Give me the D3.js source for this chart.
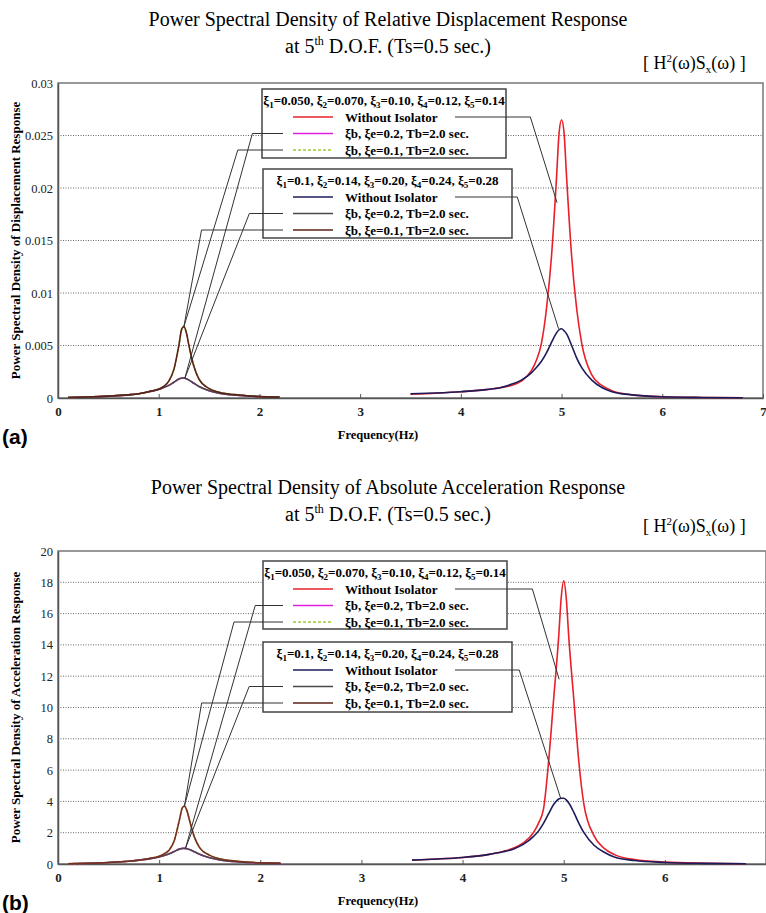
<!DOCTYPE html>
<html>
<head>
<meta charset="utf-8">
<script src="https://cdn.jsdelivr.net/npm/d3@7"></script>
<style>
  body { margin: 0; background: #fff; }
  svg { display: block; }
</style>
</head>
<body>
<script>
// Frequenze (Hz) delle curve dei sistemi isolati e non isolati
const freqLow = [0.1, 0.3, 0.5, 0.7, 0.8, 0.9, 1.0, 1.05, 1.1, 1.15, 1.2, 1.23, 1.25, 1.28, 1.3, 1.35, 1.4, 1.5, 1.6, 1.8, 2.0, 2.2];
const freqHigh = [3.5, 3.75, 4.0, 4.25, 4.4, 4.5, 4.6, 4.7, 4.75, 4.8, 4.85, 4.9, 4.95, 4.975, 5.0, 5.025, 5.05, 5.1, 5.15, 5.2, 5.3, 5.4, 5.5, 5.7, 6.0, 6.4, 6.8];

// (a) spostamento relativo
const brownA = [0.00005, 0.0001, 0.00018, 0.0003, 0.0004, 0.0006, 0.00085, 0.0011, 0.0016, 0.0027, 0.0050, 0.0066, 0.0068, 0.0060, 0.0050, 0.0030, 0.0018, 0.0009, 0.00055, 0.00028, 0.00015, 0.0001];
const grayA = [0.00005, 0.0001, 0.00018, 0.0003, 0.0004, 0.0006, 0.0008, 0.001, 0.0012, 0.0015, 0.0018, 0.0019, 0.0019, 0.0018, 0.0017, 0.0014, 0.0011, 0.0007, 0.00045, 0.00025, 0.00013, 0.00008];
const redA = [0.00035, 0.00045, 0.0006, 0.0008, 0.001, 0.0012, 0.0016, 0.0026, 0.0036, 0.0052, 0.0085, 0.0135, 0.021, 0.0252, 0.0265, 0.0252, 0.021, 0.0135, 0.0085, 0.0052, 0.0022, 0.0012, 0.0007, 0.0003, 0.00012, 0.00005, 0.00002];
const navyA = [0.0004, 0.00048, 0.0006, 0.0008, 0.001, 0.0013, 0.0017, 0.0024, 0.0029, 0.0035, 0.0043, 0.0053, 0.0062, 0.0065, 0.0066, 0.0064, 0.0061, 0.005, 0.0038, 0.0029, 0.0017, 0.001, 0.0006, 0.0003, 0.00012, 0.00005, 0.00002];

// (b) accelerazione assoluta
const brownB = [0.02, 0.05, 0.1, 0.18, 0.24, 0.35, 0.5, 0.65, 0.9, 1.5, 2.8, 3.6, 3.7, 3.3, 2.8, 1.7, 1.05, 0.55, 0.33, 0.16, 0.08, 0.05];
const grayB = [0.02, 0.05, 0.1, 0.18, 0.25, 0.33, 0.45, 0.55, 0.65, 0.8, 0.95, 1.0, 1.0, 0.96, 0.92, 0.78, 0.62, 0.4, 0.26, 0.13, 0.07, 0.04];
const redB = [0.25, 0.32, 0.42, 0.6, 0.8, 1.0, 1.35, 2.0, 2.6, 3.5, 6.5, 10.5, 14.5, 17.0, 18.1, 17.0, 14.5, 10.5, 6.5, 3.8, 1.8, 1.0, 0.6, 0.28, 0.12, 0.05, 0.02];
const navyB = [0.25, 0.32, 0.42, 0.6, 0.78, 0.95, 1.25, 1.75, 2.1, 2.6, 3.2, 3.8, 4.15, 4.2, 4.2, 4.1, 3.9, 3.3, 2.6, 2.0, 1.2, 0.75, 0.45, 0.22, 0.1, 0.04, 0.02];

// Tick
const xTicks = [0, 1, 2, 3, 4, 5, 6, 7];
const xTickLabelsA = ['0', '1', '2', '3', '4', '5', '6', '7'];
const xTickLabelsB = ['0', '1', '2', '3', '4', '5', '6', ''];
const yTicksA = [0, 0.005, 0.01, 0.015, 0.02, 0.025, 0.03];
const yTicksB = [0, 2, 4, 6, 8, 10, 12, 14, 16, 18, 20];

// Testi della legenda
const headerSet1 = [['1', '0.050'], ['2', '0.070'], ['3', '0.10'], ['4', '0.12'], ['5', '0.14']];
const headerSet2 = [['1', '0.1'], ['2', '0.14'], ['3', '0.20'], ['4', '0.24'], ['5', '0.28']];
const rowLabels = ['Without Isolator', 'ξb, ξe=0.2, Tb=2.0 sec.', 'ξb, ξe=0.1, Tb=2.0 sec.'];

const SERIF = "'Liberation Serif', 'Times New Roman', serif";
const W = 766, H = 913;

const svg = d3.select('body').append('svg')
  .attr('width', W)
  .attr('height', H);

function drawPanel(p) {
  const x = d3.scaleLinear().domain([0, 7]).range([p.left, p.right]);
  const y = d3.scaleLinear().domain([0, p.yMax]).range([p.bottom, p.top]);
  const g = svg.append('g');

  // Titolo
  g.append('text')
    .attr('x', 388).attr('y', p.titleY)
    .attr('text-anchor', 'middle')
    .style('font-family', SERIF).style('font-size', '20px')
    .text(p.title);
  const t2 = g.append('text')
    .attr('x', 388).attr('y', p.titleY + 27)
    .attr('text-anchor', 'middle')
    .style('font-family', SERIF).style('font-size', '20px');
  t2.append('tspan').text('at 5');
  t2.append('tspan').attr('dy', -8).style('font-size', '12px').text('th');
  t2.append('tspan').attr('dy', 8).text(' D.O.F. (Ts=0.5 sec.)');

  // [ H²(ω)Sx(ω) ]
  const hs = g.append('text')
    .attr('x', 643).attr('y', p.hY)
    .style('font-family', SERIF).style('font-size', '18px');
  hs.append('tspan').text('[ H');
  hs.append('tspan').attr('dy', -7).style('font-size', '11px').text('2');
  hs.append('tspan').attr('dy', 7).text('(ω)S');
  hs.append('tspan').attr('dy', 4).style('font-size', '11px').text('x');
  hs.append('tspan').attr('dy', -4).text('(ω) ]');

  // Griglia
  g.selectAll('.grid')
    .data(p.yTicks.filter(v => v > 0 && v < p.yMax))
    .join('line')
    .attr('x1', p.left).attr('x2', p.right)
    .attr('y1', d => y(d)).attr('y2', d => y(d))
    .attr('stroke', '#666').attr('stroke-width', 1)
    .attr('stroke-dasharray', '1,1.5');

  // Cornice
  g.append('rect')
    .attr('x', p.left).attr('y', p.top)
    .attr('width', p.right - p.left).attr('height', p.bottom - p.top)
    .attr('fill', 'none').attr('stroke', '#777').attr('stroke-width', 1.5);

  // Assi
  const xAxis = g.append('g')
    .attr('transform', 'translate(0,' + p.bottom + ')')
    .call(d3.axisBottom(x).tickValues(xTicks).tickSize(-4).tickSizeOuter(0).tickPadding(9)
      .tickFormat((d, i) => p.xLabels[i]));
  xAxis.select('.domain').attr('stroke', '#555').attr('stroke-width', 1.5);
  xAxis.selectAll('line').attr('stroke', '#555');
  xAxis.selectAll('text')
    .style('font-family', SERIF).style('font-size', '13px').style('font-weight', 'bold').attr('fill', '#222');

  const yAxis = g.append('g')
    .attr('transform', 'translate(' + p.left + ',0)')
    .call(d3.axisLeft(y).tickValues(p.yTicks).tickSize(0).tickSizeOuter(0).tickPadding(5)
      .tickFormat(d => String(d)));
  yAxis.select('.domain').attr('stroke', '#555').attr('stroke-width', 1.5);
  yAxis.selectAll('text')
    .style('font-family', SERIF).style('font-size', '12.5px').attr('fill', '#222');

  // Etichette degli assi
  g.append('text')
    .attr('transform', 'translate(20,' + ((p.top + p.bottom) / 2) + ') rotate(-90)')
    .attr('text-anchor', 'middle')
    .style('font-family', SERIF).style('font-size', '13px').style('font-weight', 'bold')
    .text(p.yLabel);
  g.append('text')
    .attr('x', 378).attr('y', p.bottom + 41)
    .attr('text-anchor', 'middle')
    .style('font-family', SERIF).style('font-size', '12.5px').style('font-weight', 'bold')
    .text('Frequency(Hz)');
  g.append('text')
    .attr('x', 2).attr('y', p.bottom + 46)
    .style('font-family', "'Liberation Sans', Arial, sans-serif").style('font-size', '21px').style('font-weight', 'bold')
    .text(p.letter);

  // Curve
  const line = d3.line()
    .x(d => x(d[0])).y(d => y(d[1]))
    .curve(d3.curveMonotoneX);
  p.series.forEach(s => {
    g.append('path')
      .datum(s.f.map((f, i) => [f, s.v[i]]))
      .attr('d', line)
      .attr('fill', 'none')
      .attr('stroke', s.color)
      .attr('stroke-width', 1.6)
      .attr('stroke-dasharray', s.dash || null);
  });

  // Legende
  p.legends.forEach(L => {
    const lg = g.append('g');
    lg.append('rect')
      .attr('x', L.x).attr('y', L.y).attr('width', L.w).attr('height', L.h)
      .attr('fill', 'white').attr('stroke', '#444').attr('stroke-width', 1.5);
    const ht = lg.append('text')
      .attr('x', L.x + L.w / 2).attr('y', L.y + 16)
      .attr('text-anchor', 'middle')
      .style('font-family', SERIF).style('font-size', '13px').style('font-weight', 'bold');
    L.header.forEach((h, k) => {
      ht.append('tspan').text((k ? ', ' : '') + 'ξ');
      ht.append('tspan').attr('dy', 3).style('font-size', '9px').text(h[0]);
      ht.append('tspan').attr('dy', -3).text('=' + h[1]);
    });
    rowLabels.forEach((r, k) => {
      const ry = L.y + 28 + k * 16.5;
      lg.append('line')
        .attr('x1', 293).attr('x2', 333).attr('y1', ry).attr('y2', ry)
        .attr('stroke', L.colors[k]).attr('stroke-width', 1.6)
        .attr('stroke-dasharray', L.dash[k]);
      lg.append('text')
        .attr('x', 345).attr('y', ry + 4.5)
        .style('font-family', SERIF).style('font-size', '13px').style('font-weight', 'bold')
        .text(r);
    });
  });

  // Linee di richiamo
  p.leaders.forEach(d => {
    const L = p.legends[d.box];
    const ry = L.y + 28 + d.row * 16.5;
    g.append('path')
      .attr('d', 'M' + d.x0 + ',' + ry + 'H' + x(d.elbow) + 'L' + x(d.to[0]) + ',' + y(d.to[1]))
      .attr('fill', 'none').attr('stroke', '#333').attr('stroke-width', 1);
  });
}

const colors1 = ['#e8202a', '#e020e0', '#9acd32'];
const colors2 = ['#1c1c5c', '#4a4a4a', '#5a2216'];
const dash1 = [null, null, '3,2'];
const dash2 = [null, null, null];

drawPanel({
  title: 'Power Spectral Density of Relative Displacement Response',
  titleY: 26, hY: 69,
  left: 58, right: 763, top: 83, bottom: 398,
  yMax: 0.03, yTicks: yTicksA, xLabels: xTickLabelsA,
  yLabel: 'Power Spectral Density of Displacement Response',
  letter: '(a)',
  series: [
    { f: freqLow, v: grayA, color: colors1[1] },
    { f: freqLow, v: brownA, color: colors1[2], dash: '3,2' },
    { f: freqLow, v: grayA, color: colors2[1] },
    { f: freqLow, v: brownA, color: colors2[2] },
    { f: freqHigh, v: redA, color: colors1[0] },
    { f: freqHigh, v: navyA, color: colors2[0] }
  ],
  legends: [
    { x: 262, y: 89, w: 244, h: 69, header: headerSet1, colors: colors1, dash: dash1 },
    { x: 263, y: 169, w: 249, h: 69, header: headerSet2, colors: colors2, dash: dash2 }
  ],
  leaders: [
    { box: 0, row: 0, x0: 455, elbow: 4.69, to: [4.955, 0.0186] },
    { box: 1, row: 0, x0: 455, elbow: 4.56, to: [4.97, 0.0066] },
    { box: 0, row: 1, x0: 283, elbow: 1.93, to: [1.26, 0.0019] },
    { box: 0, row: 2, x0: 283, elbow: 1.785, to: [1.25, 0.0068] },
    { box: 1, row: 1, x0: 283, elbow: 1.9, to: [1.26, 0.0019] },
    { box: 1, row: 2, x0: 283, elbow: 1.425, to: [1.25, 0.0068] }
  ]
});

drawPanel({
  title: 'Power Spectral Density of Absolute Acceleration Response',
  titleY: 494, hY: 532,
  left: 58, right: 766, top: 551, bottom: 864,
  yMax: 20, yTicks: yTicksB, xLabels: xTickLabelsB,
  yLabel: 'Power Spectral Density of Acceleration Response',
  letter: '(b)',
  series: [
    { f: freqLow, v: grayB, color: colors1[1] },
    { f: freqLow, v: brownB, color: colors1[2], dash: '3,2' },
    { f: freqLow, v: grayB, color: colors2[1] },
    { f: freqLow, v: brownB, color: '#7a2e22' },
    { f: freqHigh, v: redB, color: colors1[0] },
    { f: freqHigh, v: navyB, color: colors2[0] }
  ],
  legends: [
    { x: 263, y: 561, w: 244, h: 68, header: headerSet1, colors: colors1, dash: dash1 },
    { x: 263, y: 642, w: 249, h: 70, header: headerSet2, colors: colors2, dash: dash2 }
  ],
  leaders: [
    { box: 0, row: 0, x0: 455, elbow: 4.69, to: [4.955, 11.8] },
    { box: 1, row: 0, x0: 455, elbow: 4.56, to: [4.97, 4.2] },
    { box: 0, row: 1, x0: 283, elbow: 1.95, to: [1.26, 1.0] },
    { box: 0, row: 2, x0: 283, elbow: 1.74, to: [1.25, 3.7] },
    { box: 1, row: 1, x0: 283, elbow: 1.89, to: [1.26, 1.0] },
    { box: 1, row: 2, x0: 283, elbow: 1.42, to: [1.25, 3.7] }
  ]
});
</script>
</body>
</html>
